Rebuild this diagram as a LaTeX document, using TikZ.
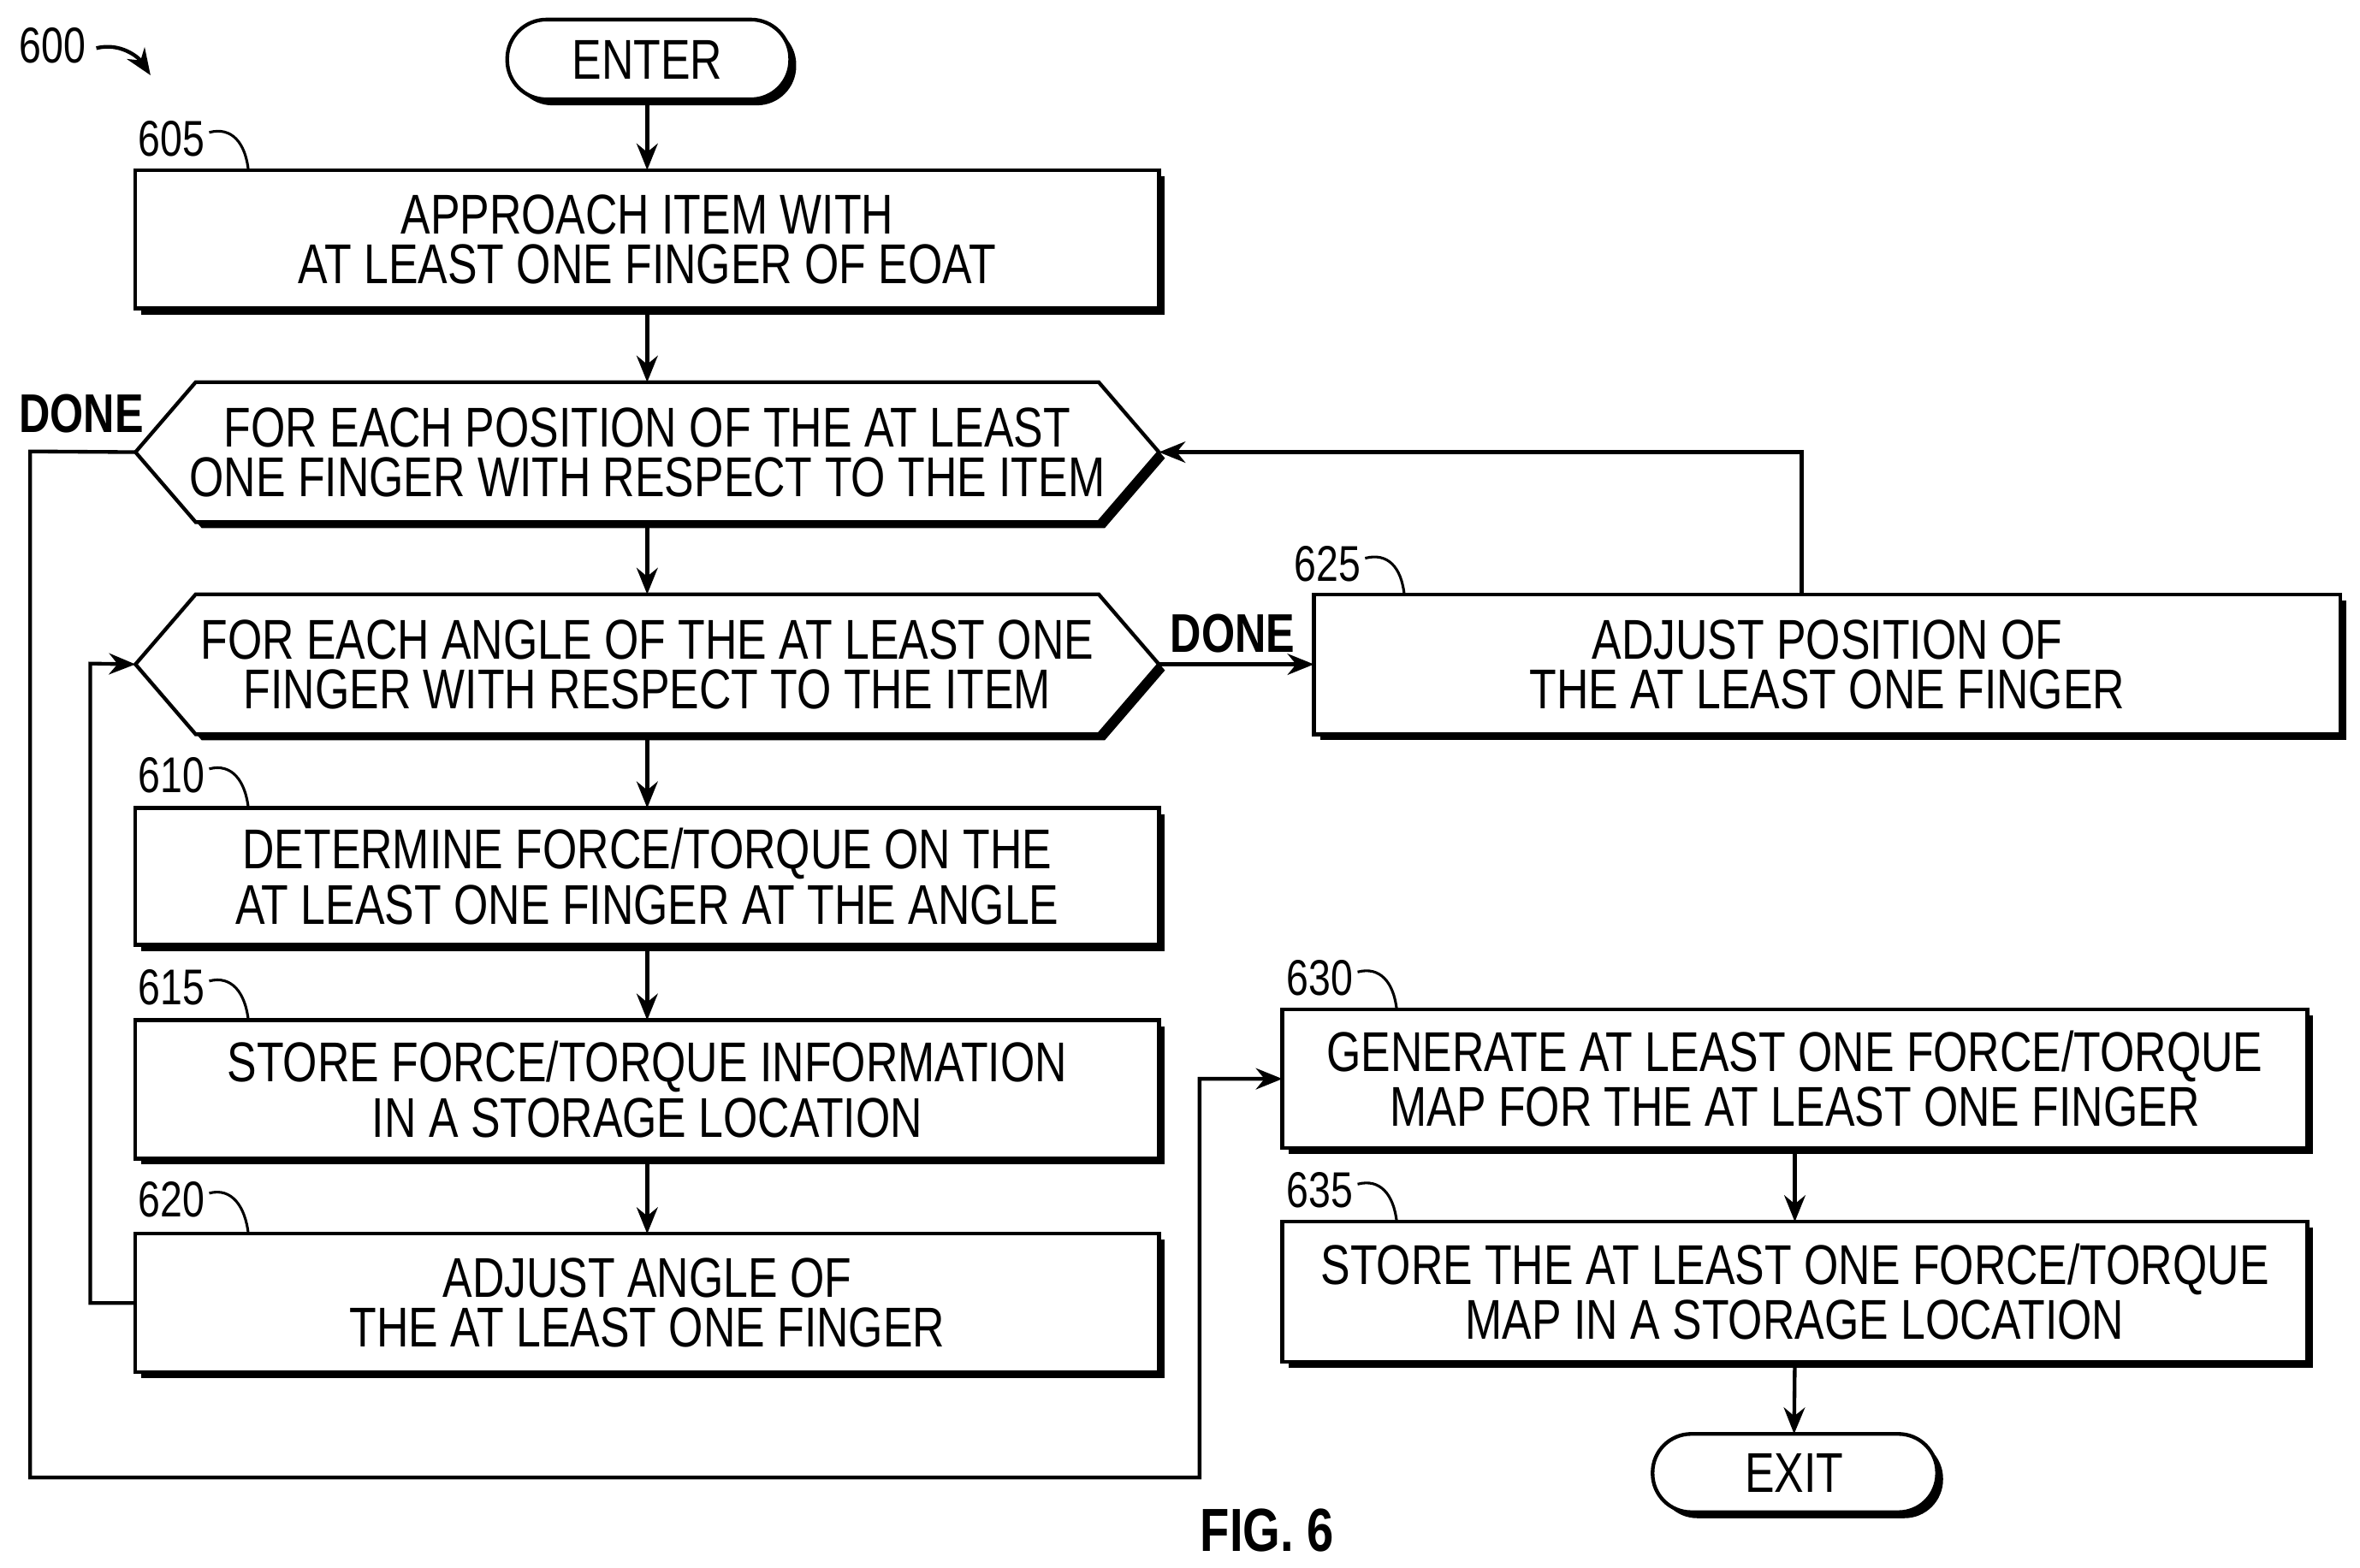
\documentclass[tikz,border=0pt]{standalone}
\usepackage{fontspec}
\setmainfont{Liberation Sans}[FakeStretch=0.79]
\usetikzlibrary{arrows.meta,calc}
\begin{document}
\begin{tikzpicture}[x=0.01cm,y=-0.01cm,
  font=\fontsize{10.6}{9.4}\selectfont,
  line width=0.7pt,
  arr/.style={-{Stealth[length=5pt,width=4pt]}},
  lab/.style={font=\fontsize{9.5}{11}\selectfont},
  txt/.style={align=center,inner sep=0}]
\useasboundingbox (0,0) rectangle (1568,1042);
\def\sbox#1#2#3#4#5{% name x1 y1 x2 y2
  \fill (#2+4,#3+4) rectangle (#4+4,#5+4);
  \draw[fill=white] (#2,#3) rectangle (#4,#5);
  \coordinate (#1) at ({(#2+#4)/2},{(#3+#5)/2});
  \coordinate (#1t) at ({(#2+#4)/2},#3);
  \coordinate (#1b) at ({(#2+#4)/2},#5);
  \coordinate (#1l) at (#2,{(#3+#5)/2});
  \coordinate (#1r) at (#4,{(#3+#5)/2});}
\def\hexa#1#2#3{% name ytop ybot
  \fill ($(90,{(#2+#3)/2})+(4,4)$) -- (134,#2+4) -- (734,#2+4) -- (774,{(#2+#3)/2+4}) -- (734,#3+4) -- (134,#3+4) -- cycle;
  \draw[fill=white] (90,{(#2+#3)/2}) -- (130,#2) -- (730,#2) -- (770,{(#2+#3)/2}) -- (730,#3) -- (130,#3) -- cycle;
  \coordinate (#1) at (430,{(#2+#3)/2});
  \coordinate (#1t) at (430,#2);
  \coordinate (#1b) at (430,#3);
  \coordinate (#1l) at (90,{(#2+#3)/2});
  \coordinate (#1r) at (770,{(#2+#3)/2});}
% terminals
\fill[rounded corners=7.4pt] (341,17) rectangle (529,70);
\draw[fill=white,rounded corners=7.4pt] (337,13) rectangle (525,66);
\node[txt] (enter) at (430,40) {ENTER};
\coordinate (enterb) at (430,66);
\fill[rounded corners=7.3pt] (1102,957) rectangle (1291,1009);
\draw[fill=white,rounded corners=7.3pt] (1098,953) rectangle (1287,1005);
\node[txt] (exit) at (1192,979) {EXIT};
\coordinate (exitt) at (1192,953);
% boxes
\sbox{b605}{90}{113}{770}{205}
\node[txt] (t605) at (b605) {APPROACH ITEM WITH\\AT LEAST ONE FINGER OF EOAT};
\hexa{h1}{254}{347}
\node[txt] (th1) at (h1) {FOR EACH POSITION OF THE AT LEAST\\ONE FINGER WITH RESPECT TO THE ITEM};
\hexa{h2}{395}{488}
\node[txt] (th2) at (h2) {FOR EACH ANGLE OF THE AT LEAST ONE\\FINGER WITH RESPECT TO THE ITEM};
\sbox{b610}{90}{537}{770}{628}
\node[txt] (t610) at (b610) {DETERMINE FORCE/TORQUE ON THE\\AT LEAST ONE FINGER AT THE ANGLE};
\sbox{b615}{90}{678}{770}{770}
\node[txt] (t615) at (b615) {STORE FORCE/TORQUE INFORMATION\\IN A STORAGE LOCATION};
\sbox{b620}{90}{820}{770}{912}
\node[txt] (t620) at (b620) {ADJUST ANGLE OF\\THE AT LEAST ONE FINGER};
\sbox{b625}{873}{395}{1555}{488}
\node[txt] (t625) at (b625) {ADJUST POSITION OF\\THE AT LEAST ONE FINGER};
\coordinate (b625up) at (1197,395);
\sbox{b630}{852}{671}{1533}{763}
\node[txt] (t630) at (b630) {GENERATE AT LEAST ONE FORCE/TORQUE\\MAP FOR THE AT LEAST ONE FINGER};
\sbox{b635}{852}{812}{1533}{905}
\node[txt] (t635) at (b635) {STORE THE AT LEAST ONE FORCE/TORQUE\\MAP IN A STORAGE LOCATION};
% connectors
\draw[arr] (enterb) -- (b605t);
\draw[arr] (b605b) -- (h1t);
\draw[arr] (h1b) -- (h2t);
\draw[arr] (h2b) -- (b610t);
\draw[arr] (b610b) -- (b615t);
\draw[arr] (b615b) -- (b620t);
\draw[arr] (b620l) -- (60,866) -- (60,441) -- (h2l);
\draw[arr] (h2r) -- (b625l);
\draw[arr] (b625up) |- (h1r);
\draw[arr] (h1l) -- (20,300) -- (20,982) -- (797,982) -- (797,717) -- (b630l);
\draw[arr] (b630b) -- (b635t);
\draw[arr] (b635b) -- (exitt);
\node[font=\fontsize{10.3}{12}\selectfont\bfseries] (d1) at (54,275) {DONE};
\node[font=\fontsize{10.3}{12}\selectfont\bfseries] (d2) at (819,421) {DONE};
\node[font=\fontsize{11.5}{14}\selectfont\bfseries] (fig) at (842,1017) {FIG. 6};
% reference labels
\node[lab] (l600) at (35,30) {600};
\draw[arr] (64,32) .. controls (80,28) and (92,38) .. (100,50);
\foreach \n/\x/\y/\bx/\by in {605/114/92/165/113, 610/114/515/165/537, 615/114/656/165/678, 620/114/797/165/820, 625/882/375/933/395, 630/877/650/928/671, 635/877/791/928/812}{
  \node[lab] (l\n) at (\x,\y) {\n};
  \draw[line width=0.5pt] (\x+25,\y-4) .. controls (\x+40,\y-8) and (\bx-2,\by-18) .. (\bx,\by);
}
\end{tikzpicture}
\end{document}
